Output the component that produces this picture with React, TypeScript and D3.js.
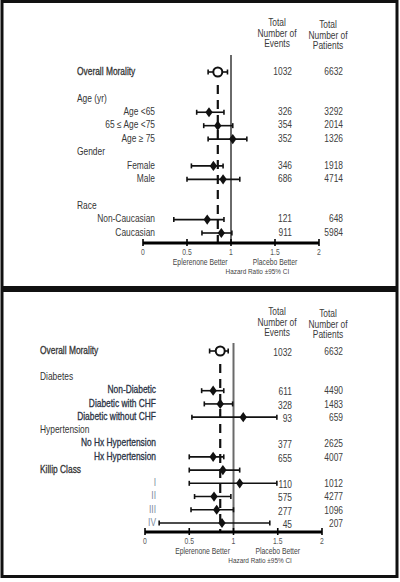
import React from 'react';
import * as d3 from 'd3';

const FONT = "'Liberation Sans', Arial, sans-serif";
// horizontal squeeze that gives the condensed look of the labels
const SQUEEZE = 0.8;

// ---- upper forest plot: age, gender, race ----
const topRows = ['Overall Morality', '', 'Age (yr)', 'Age <65', '65 ≤ Age <75', 'Age ≥ 75', 'Gender', 'Female', 'Male', ' ', 'Race', 'Non-Caucasian', 'Caucasian'];
const topGroups = ['Overall Morality', 'Age (yr)', 'Gender', 'Race'];
const topEstRows = ['Overall Morality', 'Age <65', '65 ≤ Age <75', 'Age ≥ 75', 'Female', 'Male', 'Non-Caucasian', 'Caucasian'];
const topHR = [0.85, 0.75, 0.85, 1.02, 0.8, 0.91, 0.73, 0.89];
const topLower = [0.74, 0.61, 0.69, 0.74, 0.55, 0.5, 0.35, 0.67];
const topUpper = [0.96, 0.92, 1.02, 1.18, 0.91, 1.1, 0.92, 1.01];
const topCountRows = ['Overall Morality', 'Age <65', '65 ≤ Age <75', 'Age ≥ 75', 'Female', 'Male', 'Non-Caucasian', 'Caucasian'];
const topEvents = [1032, 326, 354, 352, 346, 686, 121, 911];
const topPatients = [6632, 3292, 2014, 1326, 1918, 4714, 648, 5984];

// ---- lower forest plot: diabetes, hypertension, Killip class ----
const bottomRows = ['Overall Morality', '', 'Diabetes', 'Non-Diabetic', 'Diabetic with CHF', 'Diabetic without CHF', 'Hypertension', 'No Hx Hypertension', 'Hx Hypertension', 'Killip Class', 'I', 'II', 'III', 'IV'];
const bottomGroups = ['Overall Morality', 'Diabetes', 'Hypertension', 'Killip Class'];
const bottomEstRows = ['Overall Morality', 'Non-Diabetic', 'Diabetic with CHF', 'Diabetic without CHF', 'Hx Hypertension', 'Killip Class', 'I', 'II', 'III', 'IV'];
const bottomHR = [0.85, 0.77, 0.85, 1.11, 0.77, 0.88, 1.07, 0.78, 0.81, 0.87];
const bottomLower = [0.73, 0.64, 0.67, 0.53, 0.5, 0.5, 0.5, 0.56, 0.52, 0.16];
const bottomUpper = [0.94, 0.89, 0.99, 1.49, 0.89, 1.07, 1.49, 0.97, 1.0, 1.41];
const bottomCountRows = ['Overall Morality', 'Non-Diabetic', 'Diabetic with CHF', 'Diabetic without CHF', 'No Hx Hypertension', 'Hx Hypertension', 'I', 'II', 'III', 'IV'];
const bottomEvents = [1032, 611, 328, 93, 377, 655, 110, 575, 277, 45];
const bottomPatients = [6632, 4490, 1483, 659, 2625, 4007, 1012, 4277, 1096, 207];

const killip = ['I', 'II', 'III', 'IV'];
const eventsHeader = ['Total', 'Number of', 'Events'];
const patientsHeader = ['Total', 'Number of', 'Patients'];

type TProps = {
  x: number;
  y: number;
  anchor?: 'start' | 'middle' | 'end';
  size?: number;
  fill?: string;
  heavy?: boolean;
  children: React.ReactNode;
};

// condensed text: squeezed horizontally around its anchor point
function T({ x, y, anchor = 'start', size = 10, fill = '#333', heavy = false, children }: TProps) {
  return (
    <text transform={`translate(${x},${y}) scale(${SQUEEZE},1)`} textAnchor={anchor} dominantBaseline="middle"
      fontSize={size} fill={fill} stroke={heavy ? fill : 'none'} strokeWidth={heavy ? 0.3 : 0}>
      {children}
    </text>
  );
}

type PanelProps = {
  rows: string[];
  groups: string[];
  estRows: string[];
  hr: number[];
  lower: number[];
  upper: number[];
  countRows: string[];
  events: number[];
  patients: number[];
  rowRange: [number, number];
  xRange: [number, number];
  groupX: number;
  subX: number;
  headerY: number;
  refTop: number;
  axisY: number;
  lowerStyle?: boolean;
};

function Panel(p: PanelProps) {
  const x = d3.scaleLinear().domain([0, 2]).range(p.xRange);
  const y = d3.scalePoint<string>().domain(p.rows).range(p.rowRange);
  const overall = p.hr[0];
  const ticks = x.ticks(4);
  const diamond = d3.symbol().type(d3.symbolDiamond).size(30)() as string;
  const evX = 292;
  const ptX = 343;

  const labelFill = (r: string) => {
    if (!p.lowerStyle) return '#383838';
    if (killip.includes(r)) return '#7d8ca0';
    return '#2a3244';
  };

  return (
    <g>
      {/* column headers */}
      {eventsHeader.map((t, i) => (
        <T key={'e' + i} x={277} y={p.headerY + i * 10.8} anchor="middle" size={10.5} fill="#3a3a3a">{t}</T>
      ))}
      {patientsHeader.map((t, i) => (
        <T key={'p' + i} x={328} y={p.headerY + 2 + i * 10.8} anchor="middle" size={10.5} fill="#3a3a3a">{t}</T>
      ))}

      {/* row labels */}
      {p.rows.filter(r => r.trim() !== '').map(r => {
        const isGroup = p.groups.includes(r);
        const heavy = r === 'Overall Morality' || r === 'Killip Class' || (!!p.lowerStyle && !isGroup && !killip.includes(r));
        return (
          <T key={'l' + r} x={isGroup ? p.groupX : p.subX} y={y(r) as number} anchor={isGroup ? 'start' : 'end'}
            size={10.5} heavy={heavy} fill={isGroup ? '#333' : labelFill(r)}>{r}</T>
        );
      })}

      {/* counts */}
      {p.countRows.map((r, i) => (
        <g key={'c' + r}>
          <T x={evX} y={(y(r) as number) + (p.lowerStyle ? 2 : 0)} anchor="end" size={10.5} fill="#404040">{p.events[i]}</T>
          <T x={ptX} y={(y(r) as number) + (p.lowerStyle ? 1 : 0)} anchor="end" size={10.5} fill="#404040">{p.patients[i]}</T>
        </g>
      ))}

      {/* line of no effect */}
      <line x1={x(1)} x2={x(1)} y1={p.refTop} y2={p.axisY} stroke="#6a6a6a" strokeWidth={2} />
      {/* overall estimate */}
      <line x1={x(overall)} x2={x(overall)} y1={(y(p.rows[0]) as number) + 13} y2={p.axisY} stroke="#111" strokeWidth={2.2} strokeDasharray="9,6" />

      {/* estimates with 95% CI */}
      {p.estRows.map((r, i) => {
        const cy = y(r) as number;
        const lo = x(p.lower[i]);
        const hi = x(p.upper[i]);
        return (
          <g key={'m' + r}>
            <line x1={lo} x2={hi} y1={cy} y2={cy} stroke="#111" strokeWidth={1.6} />
            <line x1={lo} x2={lo} y1={cy - 2.5} y2={cy + 2.5} stroke="#111" strokeWidth={1.6} />
            <line x1={hi} x2={hi} y1={cy - 2.5} y2={cy + 2.5} stroke="#111" strokeWidth={1.6} />
            {i === 0
              ? <circle cx={x(p.hr[i])} cy={cy} r={4.5} fill="#fff" stroke="#111" strokeWidth={2} />
              : <path d={diamond} transform={`translate(${x(p.hr[i])},${cy}) scale(1.25,1)`} fill="#111" />}
          </g>
        );
      })}

      {/* axis */}
      <line x1={x(0)} x2={x(2)} y1={p.axisY} y2={p.axisY} stroke="#000" strokeWidth={3} />
      {ticks.map(t => (
        <g key={'t' + t}>
          <line x1={x(t)} x2={x(t)} y1={p.axisY - 4} y2={p.axisY + 3} stroke="#000" strokeWidth={1.6} />
          <T x={x(t)} y={p.axisY + 10} anchor="middle" size={8.5} fill="#555">{d3.format('~g')(t)}</T>
        </g>
      ))}
      <T x={x(0.65)} y={p.axisY + 20} anchor="middle" size={8.5} fill="#444">Eplerenone Better</T>
      <T x={x(1.5)} y={p.axisY + 20} anchor="middle" size={8.5} fill="#444">Placebo Better</T>
      <T x={x(1.3)} y={p.axisY + 29} anchor="middle" size={8} fill="#444">Hazard Ratio ±95% CI</T>
    </g>
  );
}

export default function App() {
  return (
    <svg width={400} height={582} style={{ position: 'absolute', left: 0, top: 0, background: '#fff' }} fontFamily={FONT}>
      <rect x={0} y={0} width={400} height={582} fill="#fff" />
      <Panel rows={topRows} groups={topGroups} estRows={topEstRows} hr={topHR} lower={topLower} upper={topUpper}
        countRows={topCountRows} events={topEvents} patients={topPatients}
        rowRange={[72, 233]} xRange={[143, 319]} groupX={77} subX={155} headerY={23} refTop={55} axisY={243} />
      <Panel rows={bottomRows} groups={bottomGroups} estRows={bottomEstRows} hr={bottomHR} lower={bottomLower} upper={bottomUpper}
        countRows={bottomCountRows} events={bottomEvents} patients={bottomPatients}
        rowRange={[351, 523]} xRange={[145, 322]} groupX={40} subX={156} headerY={312} refTop={343} axisY={532} lowerStyle />
      {/* frames */}
      <rect x={2} y={1.5} width={395} height={286} fill="none" stroke="#111" strokeWidth={3} />
      <rect x={2} y={290.5} width={395} height={286} fill="none" stroke="#111" strokeWidth={3} />
    </svg>
  );
}
